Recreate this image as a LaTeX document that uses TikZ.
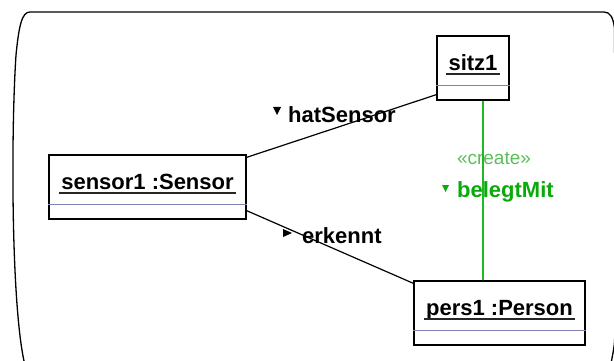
\documentclass[tikz,border=0pt]{standalone}
\usepackage{fontspec}
\setmainfont{Liberation Sans}
\definecolor{sepblue}{RGB}{130,130,180}
\definecolor{linkgreen}{RGB}{30,185,30}
\definecolor{labelgreen}{RGB}{10,170,10}
\definecolor{stereogreen}{RGB}{90,190,90}
\begin{document}
\begin{tikzpicture}[x=1pt,y=-1pt,
  obj/.style={draw,line width=1.3pt,minimum height=64pt,inner sep=0pt},
  objname/.style={anchor=base,inner xsep=2pt,inner ysep=0pt,font=\fontsize{22}{26}\selectfont\bfseries},
  uline/.style={line width=1.8pt,black!85},
  sepline/.style={sepblue,line width=1pt},
  link/.style={line width=1.2pt},
  lbl/.style={anchor=base west,inner sep=0pt,font=\fontsize{22}{26}\selectfont\bfseries},
  stereo/.style={inner sep=0pt,stereogreen,font=\fontsize{19}{22}\selectfont}]
\useasboundingbox (0,0) rectangle (614,361);

\draw[line width=1.3pt] (24,361) .. controls (11,300) and (11,130) .. (16,55)
  .. controls (19,25) and (22,12) .. (30,12) -- (604,12)
  .. controls (610,12) and (613,17) .. (614.5,28) -- (615.5,200) -- (615,330)
  .. controls (614.5,345) .. (611.5,361);

\node[obj,minimum width=197] (sensor) at (147.5,187) {};
\node[objname] (sensorname) at ([yshift=-35]sensor.north) {sensor1 :Sensor};
\draw[uline] ([yshift=-4]sensorname.base west) -- ([yshift=-4]sensorname.base east);
\draw[sepline] ([yshift=-50]sensor.north west) -- ([yshift=-50]sensor.north east);

\node[obj,minimum width=72] (sitz) at (473,68) {};
\node[objname] (sitzname) at ([yshift=-35]sitz.north) {sitz1};
\draw[uline] ([yshift=-4]sitzname.base west) -- ([yshift=-4]sitzname.base east);
\draw[sepline] ([yshift=-50]sitz.north west) -- ([yshift=-50]sitz.north east);

\node[obj,minimum width=171] (pers) at (499.5,313) {};
\node[objname] (persname) at ([yshift=-35]pers.north) {pers1 :Person};
\draw[uline] ([yshift=-4]persname.base west) -- ([yshift=-4]persname.base east);
\draw[sepline] ([yshift=-50]pers.north west) -- ([yshift=-50]pers.north east);

\node[lbl] (hatlbl) at (288,122) {hatSensor};
\fill ([xshift=-15,yshift=15]hatlbl.base west) -- ++(8,0) -- ++(-4,8) -- cycle;

\node[lbl] (erklbl) at (302,243) {erkennt};
\fill ([xshift=-19,yshift=14]erklbl.base west) -- ++(0,8) -- ++(9,-4) -- cycle;

\node[stereo] (createlbl) at (494,158) {«create»};
\node[lbl,labelgreen] (beleglbl) at (457,197) {belegtMit};
\fill[labelgreen] ([xshift=-15,yshift=12]beleglbl.base west) -- ++(7,0) -- ++(-3.5,7) -- cycle;

\draw[link] ([yshift=-3]sensor.north east) -- ([yshift=6]sitz.south west);
\draw[link] ([yshift=9]sensor.south east) -- ([yshift=-3]pers.north west);
\draw[link,draw=linkgreen] ([xshift=10]sitz.south) -- ([xshift=10]sitz.south |- pers.north);
\end{tikzpicture}
\end{document}
